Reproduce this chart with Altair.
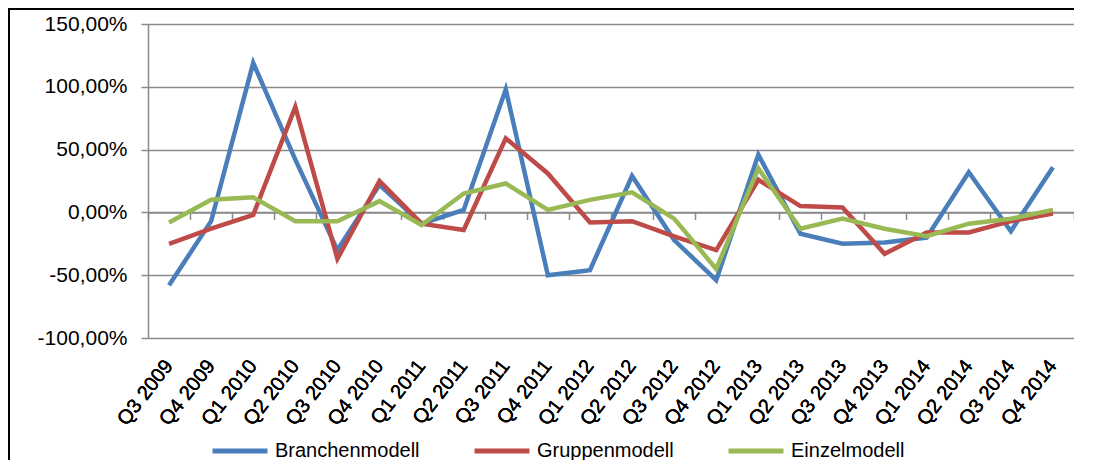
import altair as alt
import pandas as pd

quarters = ["Q3 2009", "Q4 2009", "Q1 2010", "Q2 2010", "Q3 2010", "Q4 2010",
            "Q1 2011", "Q2 2011", "Q3 2011", "Q4 2011", "Q1 2012", "Q2 2012",
            "Q3 2012", "Q4 2012", "Q1 2013", "Q2 2013", "Q3 2013", "Q4 2013",
            "Q1 2014", "Q2 2014", "Q3 2014", "Q4 2014"]
series_names = ["Branchenmodell", "Gruppenmodell", "Einzelmodell"]
branchen = [-58, -7, 119, 42, -30, 22, -9, 2, 98, -50, -46, 29, -22, -54, 46, -17, -25, -24, -20, 32, -15, 36]
gruppen = [-25, -13, -2, 84, -37, 25, -9, -14, 59, 31, -8, -7, -19, -30, 26, 5, 4, -33, -16, -16, -7, -1]
einzel = [-8, 10, 12, -7, -7, 9, -10, 15, 23, 2, 10, 16, -5, -45, 35, -13, -5, -13, -19, -9, -5, 2]
colors = ["#4A7EBB", "#BE4B48", "#98B954"]
y_ticks = [-100, -50, 0, 50, 100, 150]

rows = []
for name, vals in zip(series_names, [branchen, gruppen, einzel]):
    for q, v in zip(quarters, vals):
        rows.append({"Quartal": q, "Wert": v, "Modell": name})
df = pd.DataFrame(rows)

FONT = "Liberation Sans"
GRAY = "#8a8a8a"
W, H = 926, 314
ZERO_OFFSET = -(H - H * 150 / 250)

xscale = alt.Scale(type="band", paddingInner=0, paddingOuter=0)
yscale = alt.Scale(domain=[-100, 150], nice=False, zero=False)
color = alt.Color(
    "Modell:N",
    scale=alt.Scale(domain=series_names, range=colors),
    sort=series_names,
    legend=alt.Legend(
        title=None, orient="none", direction="horizontal",
        legendX=62, legendY=397,
        symbolType="stroke", symbolSize=3025, symbolStrokeWidth=5,
        labelFont=FONT, labelFontSize=20, labelColor="#000000",
        labelOffset=5, columnPadding=44,
    ),
)

y_axis = alt.Axis(
    values=y_ticks, title=None, orient="left",
    labelExpr="replace(replace(format(datum.value, '.2f'), '.', ','), '\u2212', '-') + '%'",
    labelFont=FONT, labelFontSize=21, labelColor="#000000", labelPadding=14,
    domainColor=GRAY, domainWidth=1.5, tickColor=GRAY, tickWidth=1.5, tickSize=7,
    grid=True, gridColor=GRAY, gridWidth=1.5,
)

x_label_axis = alt.Axis(
    title=None, orient="bottom", domain=False, ticks=False, grid=False,
    labelAngle=-52, labelAlign="right", labelBaseline="middle",
    labelFont=FONT, labelFontSize=20, labelColor="#000000",
    labelPadding=24, labelOverlap=False, labelBound=False,
)

x_zero_axis = alt.Axis(
    title=None, orient="bottom", labels=False, grid=False, offset=ZERO_OFFSET,
    domainColor=GRAY, domainWidth=1.5, tickColor=GRAY, tickWidth=1.5, tickSize=7,
    tickBand="extent",
)

layers = []
for name in series_names:
    layers.append(
        alt.Chart(df).transform_filter(alt.datum.Modell == name).mark_line(
            strokeWidth=4.5, strokeJoin="miter"
        ).encode(
            x=alt.X("Quartal:N", sort=quarters, scale=xscale, bandPosition=0.5, axis=x_label_axis),
            y=alt.Y("Wert:Q", scale=yscale, axis=y_axis),
            color=color,
        )
    )

zero_axis_layer = alt.Chart(df).mark_point(opacity=0).encode(
    x=alt.X("Quartal:N", sort=quarters, scale=xscale, bandPosition=0.5, axis=x_zero_axis),
    y=alt.Y("Wert:Q", scale=yscale, axis=y_axis),
)

frame_data = alt.Data(values=[{"k": 1}])
frame = alt.Chart(frame_data).mark_rect(
    fill="transparent", stroke="#000000", strokeWidth=2
).encode(
    x=alt.value(-139), y=alt.value(-15), x2=alt.value(1200), y2=alt.value(600)
)

chart = alt.layer(zero_axis_layer, *layers, frame).resolve_axis(
    x="independent"
).properties(
    width=W, height=H,
    autosize=alt.AutoSizeParams(type="none"),
    padding={"left": 140, "top": 16, "right": 0, "bottom": 122},
    background="#ffffff",
).configure_view(strokeWidth=0)

chart.save("out.html", embed_options={"renderer": "svg", "actions": False})
